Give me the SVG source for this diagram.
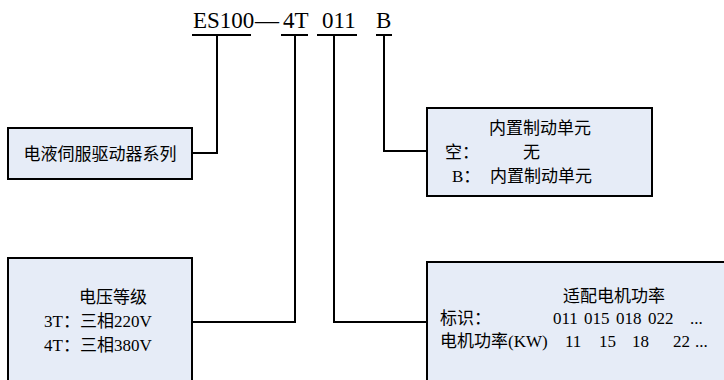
<svg xmlns="http://www.w3.org/2000/svg" width="724" height="380" viewBox="0 0 724 380">
<style>
.box{fill:#e6ecf7;stroke:#000;stroke-width:2}
.ln{fill:none;stroke:#000;stroke-width:2}
text{font-family:"Liberation Serif","Noto Sans CJK SC",serif;fill:#000}
.t{font-size:23px}
.b{font-size:17px}
</style>
<rect width="724" height="380" fill="#fff"/>
<g id="title">
<text class="t" x="193" y="28">ES100</text>
<text class="t" x="255" y="28" textLength="24" lengthAdjust="spacingAndGlyphs">—</text>
<text class="t" x="283" y="28">4T</text>
<text class="t" x="322" y="28">011</text>
<text class="t" x="376" y="28">B</text>
</g>
<g id="connectors">
<path class="ln" d="M192 35H251M281 35H308M317 35H357M376 35H392"/>
<path class="ln" d="M217 35V153H192"/>
<path class="ln" d="M295 35V322H192"/>
<path class="ln" d="M334 35V322H427"/>
<path class="ln" d="M384 35V151H427"/>
</g>
<g id="series">
<rect class="box" x="8" y="128" width="184" height="51"/>
<text class="b" x="100" y="160" text-anchor="middle">电液伺服驱动器系列</text>
</g>
<g id="brake">
<rect class="box" x="427" y="108" width="225" height="88"/>
<text class="b" x="540" y="134" text-anchor="middle">内置制动单元</text>
<text class="b" x="445" y="158">空：</text>
<text class="b" x="523" y="158">无</text>
<text class="b" x="452" y="182">B：</text>
<text class="b" x="490" y="182">内置制动单元</text>
</g>
<g id="voltage">
<rect class="box" x="8" y="258" width="184" height="130"/>
<text class="b" x="113" y="303" text-anchor="middle">电压等级</text>
<text class="b" x="44" y="327">3T：三相220V</text>
<text class="b" x="44" y="351">4T：三相380V</text>
</g>
<g id="power">
<rect class="box" x="427" y="262" width="310" height="130"/>
<text class="b" x="614" y="302" text-anchor="middle">适配电机功率</text>
<text class="b" x="440" y="324">标识：</text>
<text class="b" x="553" y="324">011</text>
<text class="b" x="584" y="324">015</text>
<text class="b" x="616" y="324">018</text>
<text class="b" x="648" y="324">022</text>
<text class="b" x="690" y="324">...</text>
<text class="b" x="440" y="347">电机功率(KW)</text>
<text class="b" x="565" y="347">11</text>
<text class="b" x="599" y="347">15</text>
<text class="b" x="632" y="347">18</text>
<text class="b" x="673" y="347">22</text>
<text class="b" x="695" y="347">...</text>
</g>
</svg>
